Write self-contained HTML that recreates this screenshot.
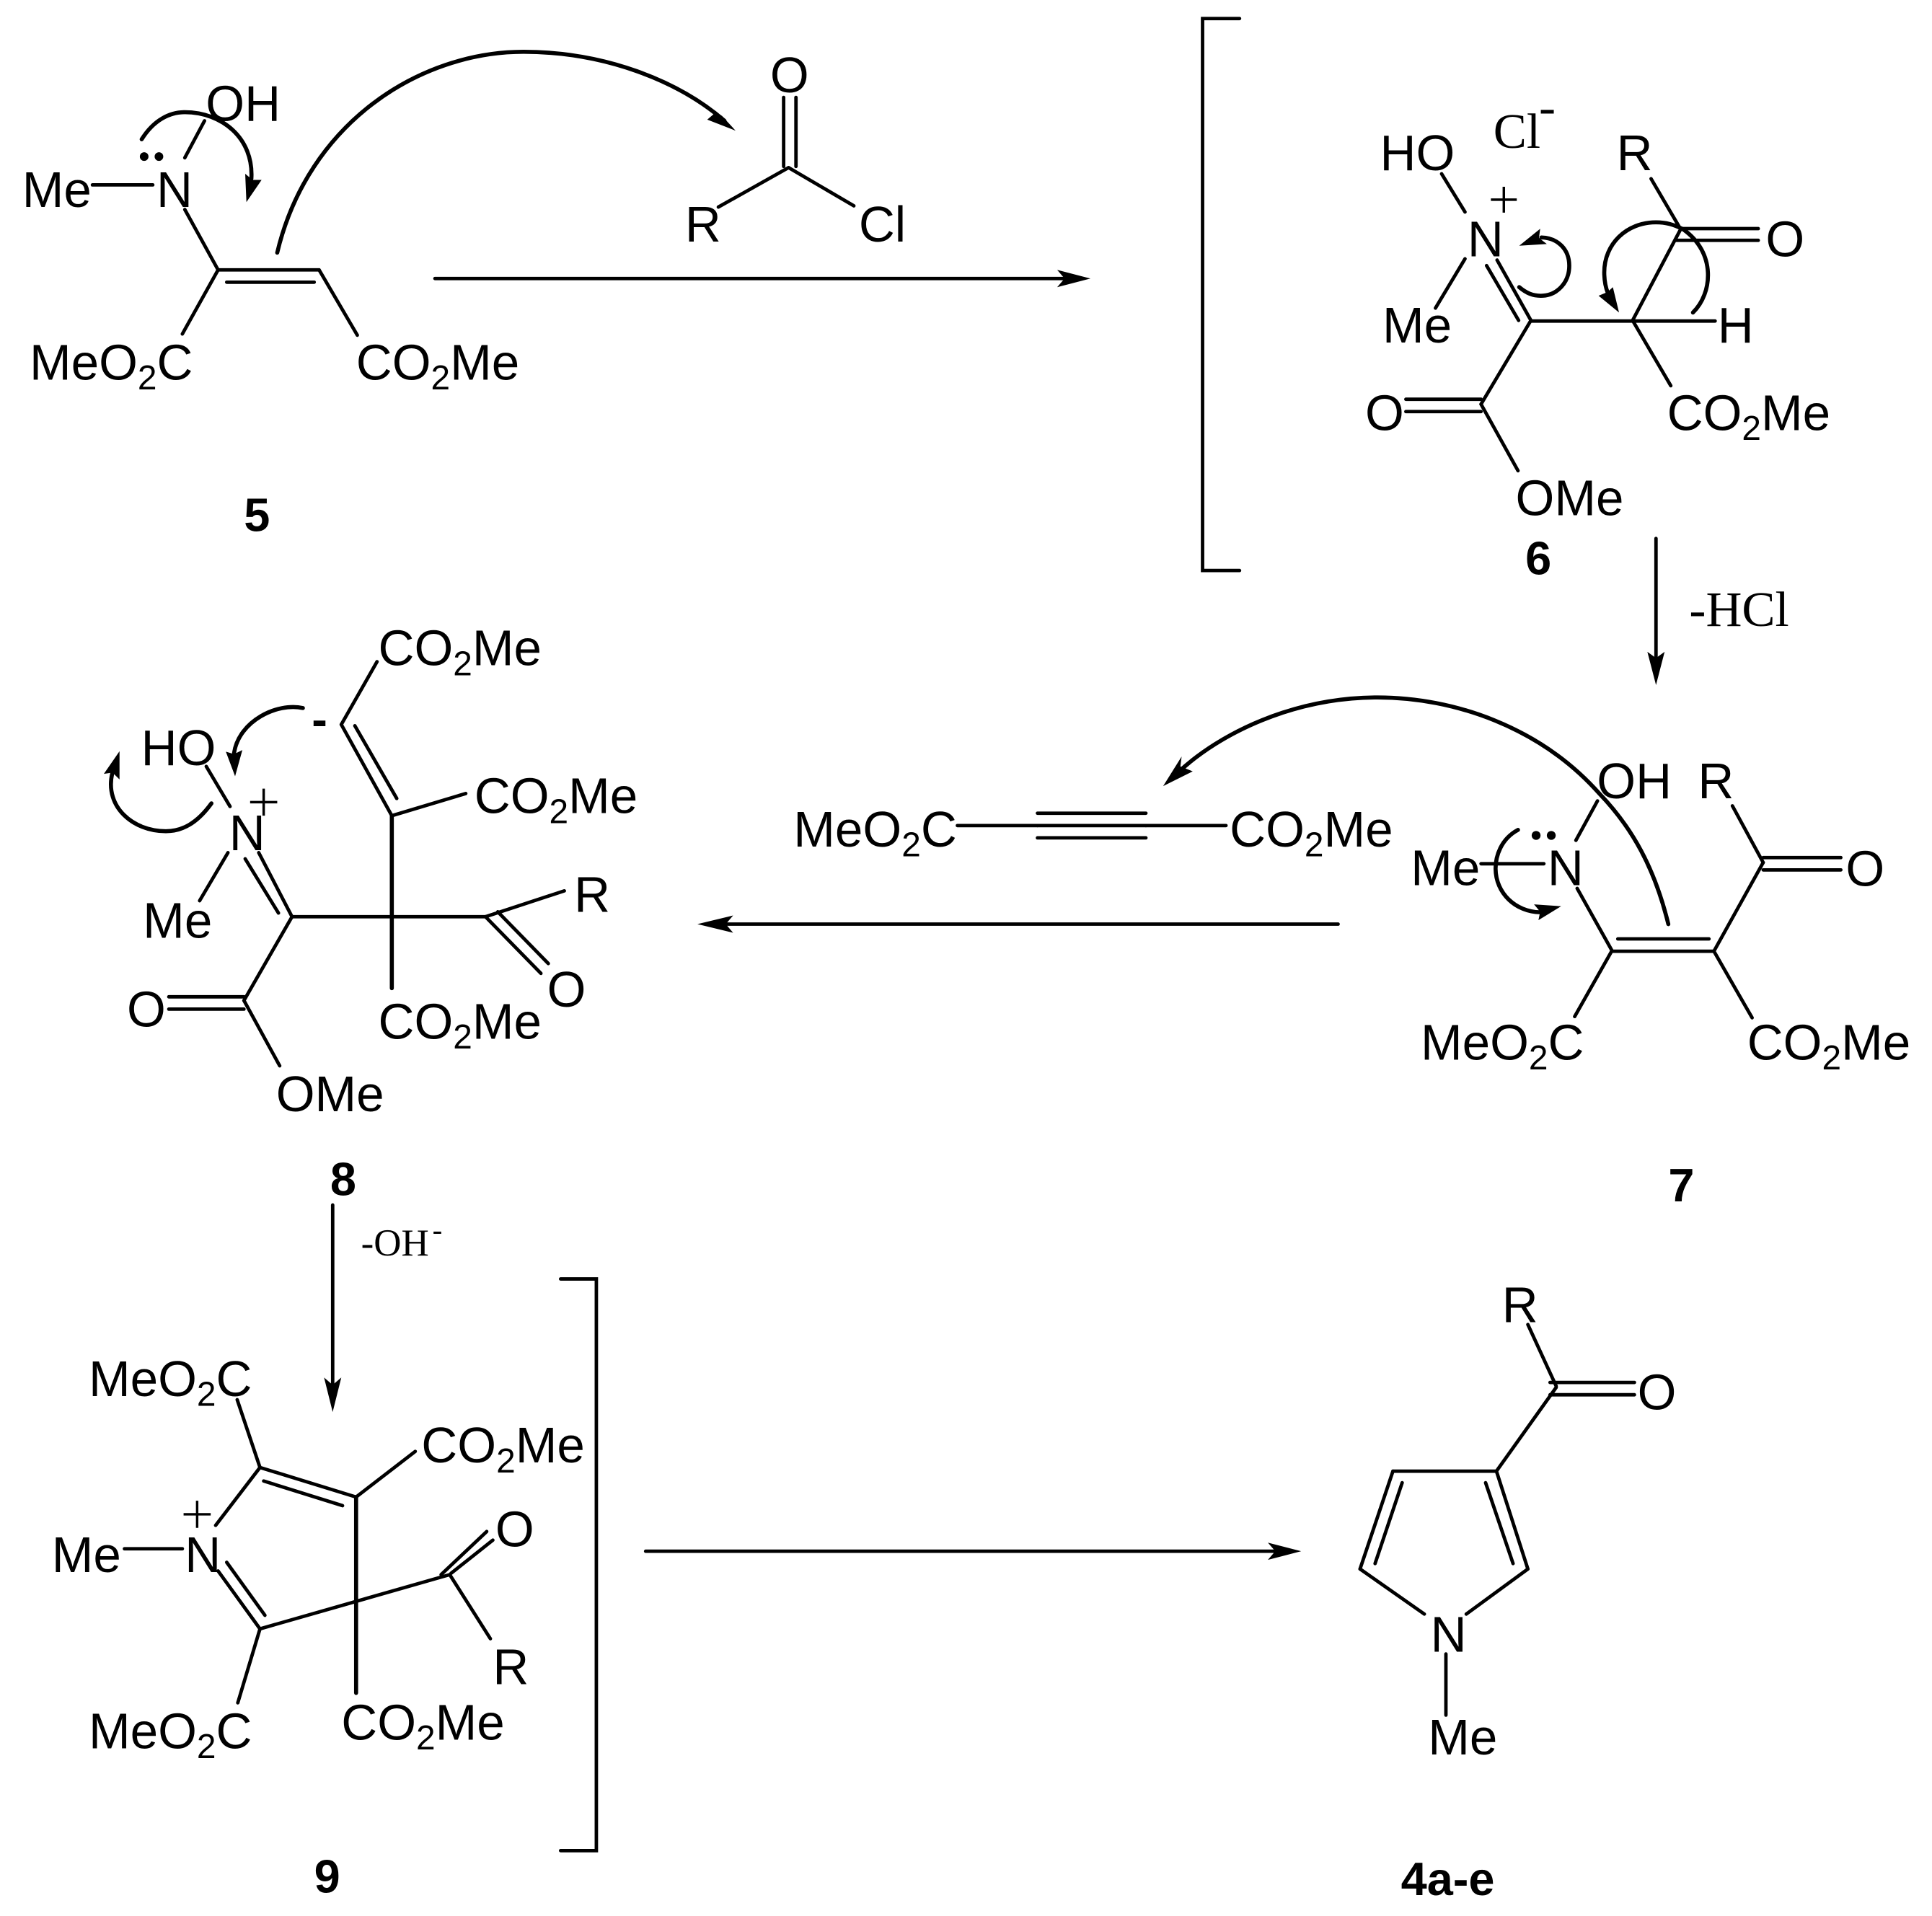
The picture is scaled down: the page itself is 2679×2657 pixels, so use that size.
<!DOCTYPE html>
<html><head><meta charset="utf-8"><style>
html,body{margin:0;padding:0;background:#fff}
svg{display:block}
text{font-family:"Liberation Sans",Arial,sans-serif;font-size:40.5px;fill:#000}
.s{font-size:28px}
.b{font-weight:bold;font-size:38px}
.t{font-family:"Liberation Serif","Times New Roman",serif}
.l line,.l polyline,.l path{stroke:#000;stroke-width:2.8;fill:none;stroke-linecap:round;stroke-linejoin:miter}
.l path,.l line.k{stroke-width:3.3}
.h{fill:#000;stroke:none}
</style></head><body>
<svg xmlns="http://www.w3.org/2000/svg" width="2679" height="2657" viewBox="0 0 1568 1555">
<rect width="1568" height="1555" fill="#fff"/>
<g class="l">
<!-- 5 -->
<line x1="75" y1="150" x2="124" y2="150"/><line x1="150" y1="128" x2="166" y2="98"/>
<line x1="150" y1="170" x2="177" y2="219"/><line x1="177" y1="219" x2="259" y2="219"/><line x1="184" y1="229" x2="255" y2="229"/>
<line x1="177" y1="219" x2="148" y2="271"/><line x1="259" y1="219" x2="290" y2="272"/>
<path d="M115,113 C125,97 138,91 150,91 C180,91 206,112 204,145"/>
<path d="M225,205 C250,100 340,42 425,42 C490,42 550,65 588,98"/>
<!-- acyl chloride -->
<line x1="636" y1="79" x2="636" y2="135"/><line x1="646" y1="79" x2="646" y2="135"/>
<line x1="583" y1="168" x2="640" y2="136"/><line x1="640" y1="136" x2="693" y2="167"/>
<line x1="353" y1="226" x2="866" y2="226"/>
<polyline points="1006,15 976,15 976,463 1006,463"/>
<!-- 6 -->
<line x1="1170" y1="141" x2="1189" y2="172"/><line x1="1189" y1="210" x2="1165" y2="250"/>
<line x1="1215" y1="211" x2="1242.5" y2="260"/><line x1="1206.5" y1="215.5" x2="1232.5" y2="260"/>
<line x1="1242.5" y1="260.5" x2="1392" y2="260.5"/><line x1="1325" y1="260" x2="1364" y2="186"/>
<line x1="1340" y1="145" x2="1364" y2="186"/><line x1="1364" y1="185.5" x2="1427" y2="185.5"/><line x1="1360" y1="195" x2="1427" y2="195"/>
<line x1="1325" y1="260" x2="1356" y2="313"/><line x1="1242.5" y1="260" x2="1202" y2="328"/>
<line x1="1141" y1="324" x2="1202" y2="324"/><line x1="1141" y1="334" x2="1202" y2="334"/>
<line x1="1202" y1="328" x2="1232" y2="382"/>
<line x1="1344" y1="437" x2="1344" y2="535"/>
<path d="M1233,233 C1239,238 1244,240 1250.5,240 C1264,240 1273.6,229 1273.6,215.6 C1273.6,202 1264,193 1251,192.7"/>
<path d="M1374,253.6 C1390,238 1393,205 1366,186 C1358,182 1352,180.4 1344,180.4 C1320,180.4 1302,198 1302,221 C1302,227 1303,233 1305,238"/>
<!-- 7 -->
<line x1="1202" y1="701" x2="1253" y2="701"/><line x1="1279" y1="682" x2="1296.5" y2="650"/>
<line x1="1280" y1="721" x2="1308" y2="771"/><line x1="1308" y1="772" x2="1391" y2="772"/><line x1="1313" y1="762" x2="1387" y2="762"/>
<line x1="1406" y1="654" x2="1431" y2="700"/><line x1="1431" y1="696" x2="1494" y2="696"/><line x1="1431" y1="706" x2="1494" y2="706"/>
<line x1="1431" y1="700" x2="1391" y2="772"/><line x1="1308" y1="772" x2="1278" y2="825"/><line x1="1391" y1="772" x2="1422" y2="826"/>
<path d="M1354,750 C1343,705 1325,672 1298,644 C1250,590 1180,566 1118,566 C1050,566 990,595 956,627"/>
<path d="M1232,673.5 C1218,681 1213.8,695 1213.8,705 C1214,725 1230,740 1250,740.4"/>
<!-- alkyne -->
<line x1="777" y1="670" x2="842" y2="670"/><line x1="842" y1="660" x2="930" y2="660"/><line x1="842" y1="670" x2="930" y2="670"/><line x1="842" y1="680" x2="930" y2="680"/><line x1="930" y1="670" x2="995" y2="670"/>
<line x1="1086" y1="750" x2="585" y2="750"/>
<!-- 8 -->
<line x1="306" y1="537" x2="277" y2="588"/><line x1="277" y1="588" x2="318" y2="662"/><line x1="288" y1="589" x2="322" y2="648"/>
<line x1="318" y1="662" x2="378" y2="644"/><line class="k" x1="318" y1="662" x2="318" y2="802"/>
<line x1="237" y1="744" x2="394" y2="744"/><line x1="394" y1="744" x2="458" y2="723"/>
<line x1="394" y1="744" x2="439" y2="790"/><line x1="404" y1="740" x2="445" y2="782"/>
<line x1="210" y1="692" x2="237" y2="744"/><line x1="199" y1="697" x2="226" y2="741"/>
<line x1="185" y1="692" x2="162" y2="731"/><line x1="167.4" y1="622" x2="186.7" y2="654.5"/>
<line x1="237" y1="744" x2="198" y2="812"/><line x1="137" y1="809" x2="198" y2="809"/><line x1="137" y1="819" x2="198" y2="819"/>
<line x1="198" y1="812" x2="227" y2="865"/>
<path d="M245.8,574.6 C225,570 194,585 190,611"/>
<path d="M171.6,652 C160,668 148,674.6 134.6,674.6 C108,674.6 85,655 91,628"/>
<line x1="270" y1="978" x2="270" y2="1125"/>
<polyline points="455,1038 484,1038 484,1502 455,1502"/>
<!-- 9 -->
<line x1="192.5" y1="1136" x2="211" y2="1191"/><line x1="211" y1="1191" x2="289" y2="1215"/><line x1="214" y1="1202" x2="278" y2="1222"/>
<line x1="289" y1="1215" x2="337" y2="1178"/><line class="k" x1="289" y1="1215" x2="289" y2="1374"/>
<line x1="175" y1="1238" x2="211" y2="1191"/><line x1="101" y1="1257" x2="148" y2="1257"/>
<line x1="177" y1="1275" x2="211" y2="1322"/><line x1="184" y1="1268" x2="215" y2="1311"/>
<line x1="211" y1="1322" x2="365" y2="1278"/><line x1="358" y1="1278" x2="395" y2="1243"/><line x1="366" y1="1277" x2="400" y2="1250"/>
<line x1="365" y1="1278" x2="398" y2="1330"/><line x1="211" y1="1322" x2="193" y2="1382"/>
<line x1="524" y1="1259" x2="1036" y2="1259"/>
<!-- 4 -->
<line x1="1240" y1="1075" x2="1263" y2="1125"/><line x1="1258" y1="1122" x2="1326.5" y2="1122"/><line x1="1258" y1="1132" x2="1326.5" y2="1132"/>
<line x1="1263" y1="1126" x2="1214.5" y2="1194"/><line x1="1130.5" y1="1194" x2="1214.5" y2="1194"/><line x1="1214.5" y1="1194" x2="1240" y2="1273.4"/><line x1="1205.7" y1="1203.4" x2="1228" y2="1269"/>
<line x1="1240" y1="1273.4" x2="1190" y2="1310"/><line x1="1103.8" y1="1273.4" x2="1156" y2="1310"/><line x1="1103.8" y1="1273.4" x2="1130.5" y2="1194"/><line x1="1116" y1="1269" x2="1138" y2="1203.4"/>
<line x1="1173.5" y1="1342.4" x2="1173.5" y2="1392"/>
</g>
<!-- plus signs -->
<g stroke="#000" stroke-width="2" fill="none">
<path d="M1210,162 H1231 M1220.5,151.5 V172.5"/><path d="M203,651 H225 M214,640 V662"/><path d="M149,1229 H171 M160,1218 V1240"/>
</g>
<!-- arrowheads -->
<polygon class="h" points="885,226 858,219 864,226 858,233"/>
<polygon class="h" points="597,106 574,97 581,91 586,94"/>
<polygon class="h" points="200,164 199,141 205,146 212.3,146"/>
<polygon class="h" points="1344,556 1337,529 1344,534 1351,529"/>
<polygon class="h" points="1233,199.4 1250,185.6 1249,193 1255.4,198"/>
<polygon class="h" points="1314,253.6 1297.4,240 1304.6,237 1309,233"/>
<polygon class="h" points="944,638 959,614 958,622 968,626"/>
<polygon class="h" points="1267,735.5 1245,734 1250,740 1248.6,746.8"/>
<polygon class="h" points="566,750 595,743 589,750 595,757"/>
<polygon class="h" points="190.8,630 183.3,610 190,612 196.7,608.7"/>
<polygon class="h" points="97,609.7 84.3,628 91.3,627 97,632.6"/>
<polygon class="h" points="270,1146 263,1118 270,1124 277,1118"/>
<polygon class="h" points="1056,1259 1029,1252 1035,1259 1029,1266"/>
<!-- lone pairs -->
<circle cx="117" cy="127" r="3.5"/><circle cx="129" cy="127" r="3.5"/>
<circle cx="1246.7" cy="678" r="3.6"/><circle cx="1259" cy="678" r="3.6"/>
<!-- texts -->
<text x="167" y="98">OH</text><text x="18" y="168">Me</text><text x="127" y="168">N</text>
<text x="24" y="308">MeO<tspan class="s" dy="8">2</tspan><tspan dy="-8">C</tspan></text>
<text x="289" y="308">CO<tspan class="s" dy="8">2</tspan><tspan dy="-8">Me</tspan></text>
<text class="b" x="198" y="431">5</text>
<text x="625" y="75">O</text><text x="556" y="196">R</text><text x="697" y="196">Cl</text>
<text x="1120" y="138">HO</text><text class="t" x="1212" y="120">Cl</text><text class="t" x="1249" y="100">-</text>
<text x="1191" y="208">N</text><text x="1122" y="278">Me</text><text x="1312" y="138">R</text><text x="1433" y="208">O</text><text x="1394" y="278">H</text>
<text x="1108" y="349">O</text><text x="1353" y="349">CO<tspan class="s" dy="8">2</tspan><tspan dy="-8">Me</tspan></text>
<text x="1230" y="418">OMe</text><text class="b" x="1238" y="466">6</text>
<text class="t" x="1371" y="508">-HCl</text>
<text x="1296" y="648">OH</text><text x="1378" y="648">R</text><text x="1145" y="718.5">Me</text><text x="1256" y="718.5">N</text><text x="1498" y="719">O</text>
<text x="1153" y="860">MeO<tspan class="s" dy="8">2</tspan><tspan dy="-8">C</tspan></text>
<text x="1418" y="860">CO<tspan class="s" dy="8">2</tspan><tspan dy="-8">Me</tspan></text>
<text class="b" x="1354" y="975">7</text>
<text x="644" y="687">MeO<tspan class="s" dy="8">2</tspan><tspan dy="-8">C</tspan></text>
<text x="998" y="687">CO<tspan class="s" dy="8">2</tspan><tspan dy="-8">Me</tspan></text>
<text x="307" y="540">CO<tspan class="s" dy="8">2</tspan><tspan dy="-8">Me</tspan></text>
<text x="385" y="660">CO<tspan class="s" dy="8">2</tspan><tspan dy="-8">Me</tspan></text>
<text x="307" y="843">CO<tspan class="s" dy="8">2</tspan><tspan dy="-8">Me</tspan></text>
<text x="114.5" y="621">HO</text><text x="186" y="690">N</text><text x="116" y="761">Me</text><text x="466" y="740">R</text><text x="444" y="817">O</text>
<text x="103" y="833">O</text><text x="224" y="902">OMe</text><text class="b" x="268" y="970">8</text>
<text class="b" x="253" y="597">-</text>
<text class="t" style="font-size:31px" x="293" y="1019">-OH</text><text class="t" style="font-size:24px" x="351" y="1006">-</text>
<text x="72" y="1133">MeO<tspan class="s" dy="8">2</tspan><tspan dy="-8">C</tspan></text>
<text x="342" y="1187">CO<tspan class="s" dy="8">2</tspan><tspan dy="-8">Me</tspan></text>
<text x="402" y="1255">O</text><text x="42" y="1276">Me</text><text x="150" y="1276">N</text><text x="400" y="1367">R</text>
<text x="72" y="1419">MeO<tspan class="s" dy="8">2</tspan><tspan dy="-8">C</tspan></text>
<text x="277" y="1412">CO<tspan class="s" dy="8">2</tspan><tspan dy="-8">Me</tspan></text>
<text class="b" x="255" y="1536">9</text>
<text x="1219" y="1073">R</text><text x="1329" y="1144">O</text><text x="1161" y="1340.5">N</text><text x="1159" y="1424">Me</text>
<text class="b" x="1137" y="1538">4a-e</text>
</svg>
</body></html>
